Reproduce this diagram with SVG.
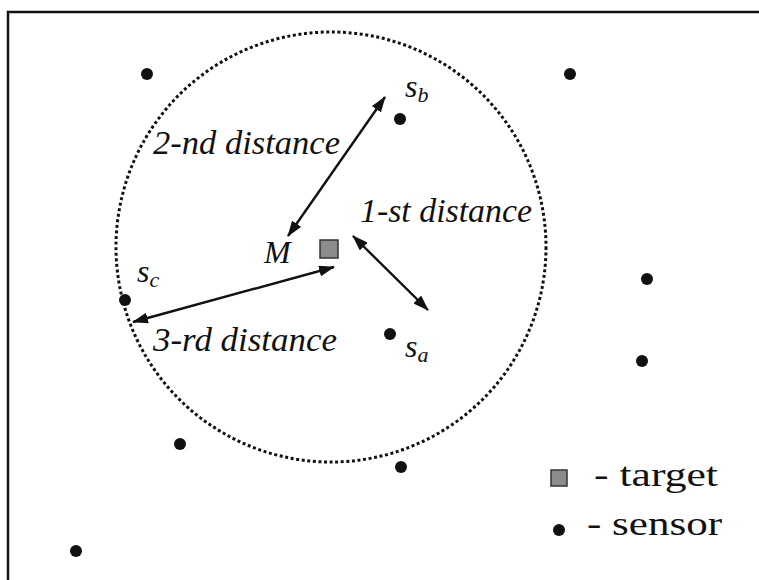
<svg xmlns="http://www.w3.org/2000/svg" width="759" height="580" viewBox="0 0 759 580">
<style>
.sensor{fill:#111}
.target{fill:#8c8c8c;stroke:#333;stroke-width:1.5}
.lbl{font-style:italic;fill:#111}
.leg{fill:#111}
.arrow{stroke:#111;stroke-width:2.4;fill:none;marker-start:url(#ah);marker-end:url(#ah)}
</style>
<defs>
<marker id="ah" viewBox="0 0 16 11" refX="15" refY="5.5" markerWidth="16" markerHeight="11" markerUnits="userSpaceOnUse" orient="auto-start-reverse">
<path d="M0,0 L16,5.5 L0,11 Z" fill="#111"/>
</marker>
</defs>
<rect x="0" y="0" width="759" height="580" fill="#fff"/>
<rect id="frame" x="8" y="12" width="770" height="600" fill="none" stroke="#111" stroke-width="2.5"/>
<circle id="range" cx="331" cy="247" r="215" fill="none" stroke="#111" stroke-width="3" stroke-dasharray="3 2.6"/>

<g id="connectors">
<line class="arrow" x1="385" y1="97" x2="288" y2="236"/>
<line class="arrow" x1="353" y1="236" x2="428" y2="310"/>
<line class="arrow" x1="334" y1="267" x2="133" y2="322"/>
</g>

<g id="target-M"><rect class="target" x="320" y="240" width="18" height="18"/>
<text class="lbl" font-family="Liberation Serif" x="264" y="263" font-size="32">M</text></g>

<g id="sensor-sa"><circle class="sensor" cx="390" cy="334" r="6"/>
<text class="lbl" font-family="Liberation Serif" x="405" y="357" font-size="32">s<tspan font-size="22" dy="5">a</tspan></text></g>
<g id="sensor-sb"><circle class="sensor" cx="400" cy="119" r="6"/>
<text class="lbl" font-family="Liberation Serif" x="405" y="97" font-size="32">s<tspan font-size="22" dy="5">b</tspan></text></g>
<g id="sensor-sc"><circle class="sensor" cx="125" cy="300" r="6"/>
<text class="lbl" font-family="Liberation Serif" x="137" y="282" font-size="32">s<tspan font-size="22" dy="5">c</tspan></text></g>

<g id="sensor-1"><circle class="sensor" cx="147" cy="74" r="6"/></g>
<g id="sensor-2"><circle class="sensor" cx="570" cy="74" r="6"/></g>
<g id="sensor-3"><circle class="sensor" cx="647" cy="279" r="6"/></g>
<g id="sensor-4"><circle class="sensor" cx="642" cy="361" r="6"/></g>
<g id="sensor-5"><circle class="sensor" cx="180" cy="444" r="6"/></g>
<g id="sensor-6"><circle class="sensor" cx="401" cy="467" r="6"/></g>
<g id="sensor-7"><circle class="sensor" cx="76" cy="551" r="6"/></g>

<g id="label-2nd"><text class="lbl" font-family="Liberation Serif" x="153" y="154" font-size="33" textLength="187" lengthAdjust="spacingAndGlyphs">2-nd distance</text></g>
<g id="label-1st"><text class="lbl" font-family="Liberation Serif" x="360" y="222" font-size="33" textLength="172" lengthAdjust="spacingAndGlyphs">1-st distance</text></g>
<g id="label-3rd"><text class="lbl" font-family="Liberation Serif" x="153" y="351" font-size="33" textLength="184" lengthAdjust="spacingAndGlyphs">3-rd distance</text></g>

<g id="legend-target"><rect class="target" x="551" y="470" width="16" height="16"/>
<text class="leg" font-family="Liberation Serif" x="594" y="486" font-size="34" textLength="124" lengthAdjust="spacingAndGlyphs">- target</text></g>
<g id="legend-sensor"><circle class="sensor" cx="559" cy="530" r="6"/>
<text class="leg" font-family="Liberation Serif" x="587" y="535" font-size="34" textLength="135" lengthAdjust="spacingAndGlyphs">- sensor</text></g>
</svg>
